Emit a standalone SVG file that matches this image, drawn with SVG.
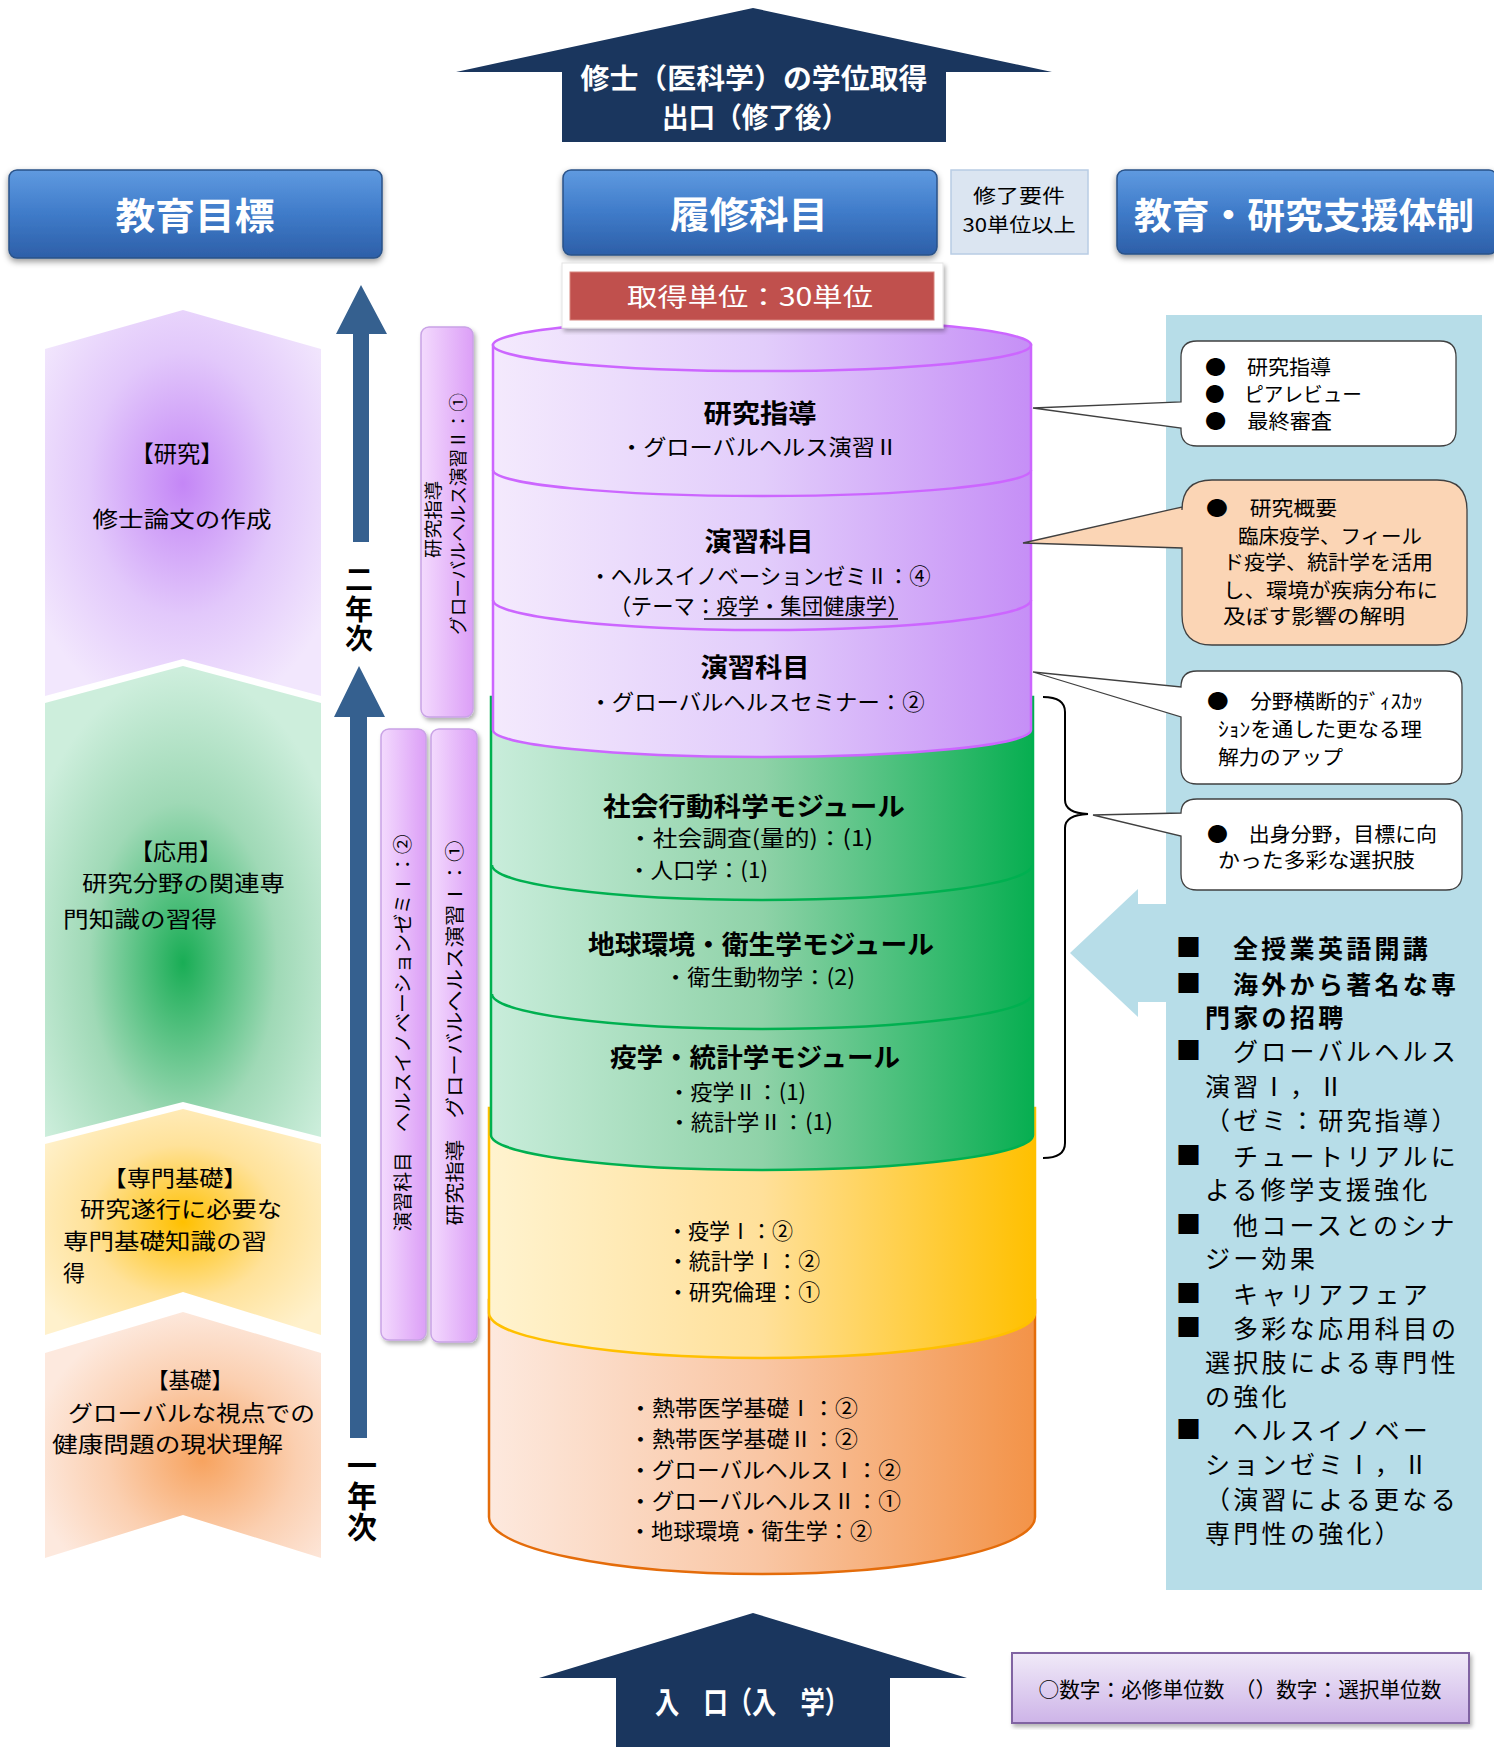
<svg xmlns="http://www.w3.org/2000/svg" width="1494" height="1747" viewBox="0 0 1494 1747">
<style>
.t{font-family:'Noto Sans CJK JP','Noto Sans',sans-serif;fill:#000}
.b{font-weight:bold}
.w{fill:#fff}
.ls{font-size:25px;letter-spacing:3.3px}
.cb{font-size:20px}
.div{fill:none;stroke-width:2.5}
.vt{writing-mode:vertical-rl}
</style>
<defs>
<filter id="sh" x="-10%" y="-10%" width="125%" height="140%"><feDropShadow dx="0" dy="3" stdDeviation="3" flood-color="#000" flood-opacity="0.4"/></filter>
<filter id="sh2" x="-20%" y="-10%" width="150%" height="120%"><feDropShadow dx="2" dy="3" stdDeviation="2" flood-color="#000" flood-opacity="0.3"/></filter>
<linearGradient id="hdr" x1="0" y1="0" x2="0" y2="1"><stop offset="0" stop-color="#5f9ae0"/><stop offset="0.5" stop-color="#3f7bc9"/><stop offset="1" stop-color="#2d5fa8"/></linearGradient>
<linearGradient id="cPu" gradientUnits="userSpaceOnUse" x1="489" y1="0" x2="1035" y2="0"><stop offset="0" stop-color="#f4eafd"/><stop offset="0.5" stop-color="#e2cdfb"/><stop offset="1" stop-color="#c58ef6"/></linearGradient>
<linearGradient id="cGr" gradientUnits="userSpaceOnUse" x1="489" y1="0" x2="1035" y2="0"><stop offset="0" stop-color="#c9eddb"/><stop offset="0.5" stop-color="#8fd2a8"/><stop offset="1" stop-color="#06ae50"/></linearGradient>
<linearGradient id="cYe" gradientUnits="userSpaceOnUse" x1="489" y1="0" x2="1035" y2="0"><stop offset="0" stop-color="#fff3cf"/><stop offset="0.5" stop-color="#ffe09a"/><stop offset="1" stop-color="#ffc000"/></linearGradient>
<linearGradient id="cOr" gradientUnits="userSpaceOnUse" x1="489" y1="0" x2="1035" y2="0"><stop offset="0" stop-color="#fde9de"/><stop offset="0.5" stop-color="#f9c6a4"/><stop offset="1" stop-color="#f39348"/></linearGradient>
<linearGradient id="bar" x1="0" y1="0" x2="1" y2="0"><stop offset="0" stop-color="#f3dafd"/><stop offset="1" stop-color="#dc9ff7"/></linearGradient>
<linearGradient id="leg" x1="0" y1="0" x2="0" y2="1"><stop offset="0" stop-color="#f0eaf8"/><stop offset="1" stop-color="#cdb4e8"/></linearGradient>
<radialGradient id="gPu" cx="0.5" cy="0.45" r="0.62"><stop offset="0" stop-color="#c486f6"/><stop offset="0.55" stop-color="#e2c8fb"/><stop offset="1" stop-color="#f2e7fd"/></radialGradient>
<radialGradient id="gGr" cx="0.5" cy="0.63" r="0.62"><stop offset="0" stop-color="#19ad55"/><stop offset="0.55" stop-color="#9fd9b6"/><stop offset="1" stop-color="#cdeedc"/></radialGradient>
<radialGradient id="gYe" cx="0.5" cy="0.5" r="0.62"><stop offset="0" stop-color="#ffc000"/><stop offset="0.55" stop-color="#ffe29a"/><stop offset="1" stop-color="#fff1cc"/></radialGradient>
<radialGradient id="gPe" cx="0.57" cy="0.6" r="0.62"><stop offset="0" stop-color="#f7a35f"/><stop offset="0.55" stop-color="#fbcfb0"/><stop offset="1" stop-color="#fde9de"/></radialGradient>
</defs>
<rect width="1494" height="1747" fill="#fff"/>

<!-- exit arrow -->
<g id="exit-arrow">
<polygon points="753,8 1052,72 946,72 946,142 562,142 562,72 456,72" fill="#1a365e"/>
<text class="t b w" x="754" y="89" font-size="28" text-anchor="middle" textLength="347" lengthAdjust="spacingAndGlyphs">修士（医科学）の学位取得</text>
<text class="t b w" x="755" y="128" font-size="28" text-anchor="middle" textLength="186" lengthAdjust="spacingAndGlyphs">出口（修了後）</text>
</g>

<!-- headers -->
<g id="hdr-goal"><rect x="9" y="170" width="373" height="88" rx="8" fill="url(#hdr)" stroke="#2a5288" stroke-width="1.5" filter="url(#sh)"/>
<text class="t b w" x="195" y="230" font-size="37" text-anchor="middle" textLength="159" lengthAdjust="spacingAndGlyphs">教育目標</text></g>
<g id="hdr-course"><rect x="563" y="170" width="374" height="85" rx="8" fill="url(#hdr)" stroke="#2a5288" stroke-width="1.5" filter="url(#sh)"/>
<text class="t b w" x="749" y="229" font-size="37" text-anchor="middle" textLength="158" lengthAdjust="spacingAndGlyphs">履修科目</text></g>
<g id="hdr-req"><rect x="951" y="170" width="137" height="84" fill="#dbe5f1" stroke="#b8cce4" stroke-width="1.5"/>
<text class="t" x="1019" y="203" font-size="19" text-anchor="middle" textLength="92" lengthAdjust="spacingAndGlyphs">修了要件</text>
<text class="t" x="1019" y="232" font-size="19" text-anchor="middle" textLength="113" lengthAdjust="spacingAndGlyphs">30単位以上</text></g>
<g id="hdr-support"><rect x="1117" y="170" width="380" height="84" rx="8" fill="url(#hdr)" stroke="#2a5288" stroke-width="1.5" filter="url(#sh)"/>
<text class="t b w" x="1304" y="229" font-size="36" text-anchor="middle" textLength="340" lengthAdjust="spacingAndGlyphs">教育・研究支援体制</text></g>

<!-- left chevrons -->
<g id="goal-research">
<path d="M45,349 L183,310 L321,349 L321,696 L183,659 L45,696 Z" fill="url(#gPu)"/>
<text class="t" x="177" y="462" font-size="23" text-anchor="middle" textLength="93" lengthAdjust="spacingAndGlyphs">【研究】</text>
<text class="t" x="182" y="527" font-size="22" text-anchor="middle" textLength="179" lengthAdjust="spacingAndGlyphs">修士論文の作成</text>
</g>
<g id="goal-applied">
<path d="M45,703 L183,666 L321,703 L321,1137 L183,1102 L45,1137 Z" fill="url(#gGr)"/>
<text class="t" x="176" y="860" font-size="23" text-anchor="middle" textLength="92" lengthAdjust="spacingAndGlyphs">【応用】</text>
<text class="t" x="82" y="891" font-size="22" textLength="203" lengthAdjust="spacingAndGlyphs">研究分野の関連専</text>
<text class="t" x="63" y="927" font-size="22" textLength="154" lengthAdjust="spacingAndGlyphs">門知識の習得</text>
</g>
<g id="goal-specialized">
<path d="M45,1144 L183,1109 L321,1144 L321,1335 L183,1292 L45,1335 Z" fill="url(#gYe)"/>
<text class="t" x="175" y="1186" font-size="22" text-anchor="middle" textLength="145" lengthAdjust="spacingAndGlyphs">【専門基礎】</text>
<text class="t" x="80" y="1217" font-size="22" textLength="202" lengthAdjust="spacingAndGlyphs">研究遂行に必要な</text>
<text class="t" x="63" y="1249" font-size="22" textLength="204" lengthAdjust="spacingAndGlyphs">専門基礎知識の習</text>
<text class="t" x="63" y="1281" font-size="22">得</text>
</g>
<g id="goal-basic">
<path d="M45,1353 L183,1312 L321,1353 L321,1558 L183,1515 L45,1558 Z" fill="url(#gPe)"/>
<text class="t" x="190" y="1388" font-size="22" text-anchor="middle" textLength="86" lengthAdjust="spacingAndGlyphs">【基礎】</text>
<text class="t" x="68" y="1421" font-size="22" textLength="247" lengthAdjust="spacingAndGlyphs">グローバルな視点での</text>
<text class="t" x="52" y="1452" font-size="22" textLength="231" lengthAdjust="spacingAndGlyphs">健康問題の現状理解</text>
</g>

<!-- year labels -->
<g id="year2"><text class="t b vt" x="359" y="610" font-size="28" letter-spacing="1.5" text-anchor="middle">二年次</text></g>
<g id="year1"><text class="t b vt" x="362" y="1496" font-size="30" letter-spacing="1" text-anchor="middle">一年次</text></g>

<!-- vertical bars -->
<g id="bar-research2">
<rect x="421" y="327" width="52" height="390" rx="8" fill="url(#bar)" stroke="#c9a3e6" stroke-width="1.5" filter="url(#sh2)"/>
<text class="t" transform="translate(440,519.5) rotate(-90)" font-size="18" text-anchor="middle" textLength="77" lengthAdjust="spacingAndGlyphs">研究指導</text>
<text class="t" transform="translate(465,514) rotate(-90)" font-size="18" text-anchor="middle" textLength="242" lengthAdjust="spacingAndGlyphs">グローバルヘルス演習Ⅱ：①</text>
</g>
<g id="bar-seminar1">
<rect x="381" y="729" width="45" height="611" rx="8" fill="url(#bar)" stroke="#c9a3e6" stroke-width="1.5" filter="url(#sh2)"/>
<text class="t" transform="translate(410,1033) rotate(-90)" font-size="19" text-anchor="middle" textLength="397" lengthAdjust="spacingAndGlyphs">演習科目　ヘルスイノベーションゼミⅠ：②</text>
</g>
<g id="bar-research1">
<rect x="431" y="729" width="46" height="613" rx="8" fill="url(#bar)" stroke="#c9a3e6" stroke-width="1.5" filter="url(#sh2)"/>
<text class="t" transform="translate(462,1033) rotate(-90)" font-size="19" text-anchor="middle" textLength="385" lengthAdjust="spacingAndGlyphs">研究指導　グローバルヘルス演習Ⅰ：①</text>
</g>

<!-- cylinder -->
<g id="layer-basic">
<path d="M489,1300 V1517 A273,57 0 0 0 1035,1517 V1300 Z" fill="url(#cOr)" stroke="#e46c0a" stroke-width="2.5"/>
<g class="t" font-size="22">
<text x="629" y="1416" textLength="229" lengthAdjust="spacingAndGlyphs">・熱帯医学基礎Ⅰ：②</text>
<text x="629" y="1447" textLength="229" lengthAdjust="spacingAndGlyphs">・熱帯医学基礎Ⅱ：②</text>
<text x="629" y="1478" textLength="272" lengthAdjust="spacingAndGlyphs">・グローバルヘルスⅠ：②</text>
<text x="629" y="1509" textLength="272" lengthAdjust="spacingAndGlyphs">・グローバルヘルスⅡ：①</text>
<text x="629" y="1539" textLength="243" lengthAdjust="spacingAndGlyphs">・地球環境・衛生学：②</text>
</g>
</g>
<g id="layer-specialized">
<path d="M489,1108 V1313 A273,45 0 0 0 1035,1313 V1108 Z" fill="url(#cYe)" stroke="#ffc000" stroke-width="2.5"/>
<g class="t" font-size="22">
<text x="667" y="1239" textLength="126" lengthAdjust="spacingAndGlyphs">・疫学Ⅰ：②</text>
<text x="667" y="1269" textLength="153" lengthAdjust="spacingAndGlyphs">・統計学Ⅰ：②</text>
<text x="667" y="1300" textLength="153" lengthAdjust="spacingAndGlyphs">・研究倫理：①</text>
</g>
</g>
<g id="layer-modules">
<path d="M491,697 V1135 A271,35 0 0 0 1033,1135 V697 Z" fill="url(#cGr)" stroke="#00b050" stroke-width="2.5"/>
<path class="div" d="M492,865 A270,35 0 0 0 1032,865" stroke="#00b050"/>
<path class="div" d="M492,994 A270,35 0 0 0 1032,994" stroke="#00b050"/>
<text class="t b" x="754" y="816" font-size="26" text-anchor="middle" textLength="302" lengthAdjust="spacingAndGlyphs">社会行動科学モジュール</text>
<text class="t" x="628" y="846" font-size="22" textLength="245" lengthAdjust="spacingAndGlyphs">・社会調査(量的)：(1)</text>
<text class="t" x="628" y="878" font-size="22" textLength="140" lengthAdjust="spacingAndGlyphs">・人口学：(1)</text>
<text class="t b" x="761" y="954" font-size="26" text-anchor="middle" textLength="346" lengthAdjust="spacingAndGlyphs">地球環境・衛生学モジュール</text>
<text class="t" x="664" y="985" font-size="22" textLength="191" lengthAdjust="spacingAndGlyphs">・衛生動物学：(2)</text>
<text class="t b" x="755" y="1067" font-size="26" text-anchor="middle" textLength="290" lengthAdjust="spacingAndGlyphs">疫学・統計学モジュール</text>
<text class="t" x="668" y="1100" font-size="22" textLength="138" lengthAdjust="spacingAndGlyphs">・疫学Ⅱ：(1)</text>
<text class="t" x="668" y="1130" font-size="22" textLength="165" lengthAdjust="spacingAndGlyphs">・統計学Ⅱ：(1)</text>
</g>
<g id="layer-research">
<path d="M493,345 V730 A269,27 0 0 0 1031,730 V345 Z" fill="url(#cPu)" stroke="#cc66ff" stroke-width="2.5"/>
<path class="div" d="M493,470 A269,26 0 0 0 1031,470" stroke="#cc66ff"/>
<path class="div" d="M493,600 A269,30 0 0 0 1031,600" stroke="#cc66ff"/>
<ellipse cx="762" cy="345" rx="269" ry="26" fill="url(#cPu)" stroke="#cc66ff" stroke-width="2.5"/>
<text class="t b" x="760" y="423" font-size="26" text-anchor="middle" textLength="113" lengthAdjust="spacingAndGlyphs">研究指導</text>
<text class="t" x="759" y="455" font-size="22" text-anchor="middle" textLength="278" lengthAdjust="spacingAndGlyphs">・グローバルヘルス演習Ⅱ</text>
<text class="t b" x="759" y="551" font-size="26" text-anchor="middle" textLength="109" lengthAdjust="spacingAndGlyphs">演習科目</text>
<text class="t" x="760" y="584" font-size="22" text-anchor="middle" textLength="341" lengthAdjust="spacingAndGlyphs">・ヘルスイノベーションゼミⅡ：④</text>
<text class="t" x="759" y="614" font-size="22" text-anchor="middle" textLength="299" lengthAdjust="spacingAndGlyphs">（テーマ：疫学・集団健康学）</text>
<line x1="704" y1="619" x2="898" y2="619" stroke="#000" stroke-width="1.3"/>
<text class="t b" x="755" y="677" font-size="26" text-anchor="middle" textLength="109" lengthAdjust="spacingAndGlyphs">演習科目</text>
<text class="t" x="757" y="710" font-size="22" text-anchor="middle" textLength="335" lengthAdjust="spacingAndGlyphs">・グローバルヘルスセミナー：②</text>
</g>

<!-- credits box -->
<g id="credits">
<rect x="562" y="263" width="381" height="65" fill="#fff" stroke="#e4e4e4" stroke-width="1" filter="url(#sh2)"/>
<rect x="570" y="272" width="364" height="48" fill="#c0504d" stroke="#d8857f" stroke-width="1"/>
<text class="t w" x="750" y="306" font-size="25" text-anchor="middle" textLength="246" lengthAdjust="spacingAndGlyphs">取得単位：30単位</text>
</g>

<!-- right panel -->
<g id="support-panel">
<rect x="1166" y="315" width="316" height="1275" fill="#b7dde8"/>
<g class="t ls">
<text x="1176" y="957" class="b">■</text><text x="1233" y="958" class="b">全授業英語開講</text>
<text x="1176" y="993" class="b">■</text><text x="1233" y="994" class="b">海外から著名な専</text>
<text x="1205" y="1027" class="b">門家の招聘</text>
<text x="1176" y="1060">■</text><text x="1233" y="1061">グローバルヘルス</text>
<text x="1205" y="1096">演習Ⅰ，Ⅱ</text>
<text x="1205" y="1130">（ゼミ：研究指導）</text>
<text x="1176" y="1165">■</text><text x="1233" y="1166">チュートリアルに</text>
<text x="1205" y="1199">よる修学支援強化</text>
<text x="1176" y="1234">■</text><text x="1233" y="1235">他コースとのシナ</text>
<text x="1205" y="1268">ジー効果</text>
<text x="1176" y="1303">■</text><text x="1233" y="1304">キャリアフェア</text>
<text x="1176" y="1337">■</text><text x="1233" y="1338">多彩な応用科目の</text>
<text x="1205" y="1372">選択肢による専門性</text>
<text x="1205" y="1406">の強化</text>
<text x="1176" y="1439">■</text><text x="1233" y="1440">ヘルスイノベー</text>
<text x="1205" y="1474">ションゼミⅠ，Ⅱ</text>
<text x="1205" y="1509">（演習による更なる</text>
<text x="1205" y="1543">専門性の強化）</text>
</g>
</g>

<!-- callouts -->
<g id="callout-guidance">
<path d="M1197,341 H1440 Q1456,341 1456,357 V430 Q1456,446 1440,446 H1197 Q1181,446 1181,430 V428 L1033,408 L1181,402 V357 Q1181,341 1197,341 Z" fill="#fff" stroke="#404040" stroke-width="1.3"/>
<g class="t cb">
<text x="1205" y="375" textLength="126" lengthAdjust="spacingAndGlyphs">●　研究指導</text>
<text x="1205" y="402" textLength="157" lengthAdjust="spacingAndGlyphs">●　ピアレビュー</text>
<text x="1205" y="429" textLength="127" lengthAdjust="spacingAndGlyphs">●　最終審査</text>
</g>
</g>
<g id="callout-overview">
<path d="M1212,480 H1437 Q1467,480 1467,510 V615 Q1467,645 1437,645 H1212 Q1182,645 1182,615 V548 L1023,543 L1182,507 V510 Q1182,480 1212,480 Z" fill="#fbd5b5" stroke="#404040" stroke-width="1.3"/>
<g class="t cb">
<text x="1206" y="516" textLength="131" lengthAdjust="spacingAndGlyphs">●　研究概要</text>
<text x="1238" y="544" textLength="184" lengthAdjust="spacingAndGlyphs">臨床疫学、フィール</text>
<text x="1223" y="570" textLength="210" lengthAdjust="spacingAndGlyphs">ド疫学、統計学を活用</text>
<text x="1223" y="598" textLength="215" lengthAdjust="spacingAndGlyphs">し、環境が疾病分布に</text>
<text x="1223" y="624" textLength="182" lengthAdjust="spacingAndGlyphs">及ぼす影響の解明</text>
</g>
</g>
<g id="callout-discussion">
<path d="M1197,671 H1446 Q1462,671 1462,687 V768 Q1462,784 1446,784 H1197 Q1181,784 1181,768 V717 L1033,672 L1181,687 Q1181,671 1197,671 Z" fill="#fff" stroke="#404040" stroke-width="1.3"/>
<g class="t cb">
<text x="1207" y="709" textLength="216" lengthAdjust="spacingAndGlyphs">●　分野横断的ﾃﾞｨｽｶｯ</text>
<text x="1218" y="737" textLength="204" lengthAdjust="spacingAndGlyphs">ｼｮﾝを通した更なる理</text>
<text x="1218" y="765" textLength="125" lengthAdjust="spacingAndGlyphs">解力のアップ</text>
</g>
</g>
<g id="callout-options">
<path d="M1197,799 H1446 Q1462,799 1462,815 V874 Q1462,890 1446,890 H1197 Q1181,890 1181,874 V836 L1093,815 L1181,813 Q1181,799 1197,799 Z" fill="#fff" stroke="#404040" stroke-width="1.3"/>
<g class="t cb">
<text x="1207" y="842" textLength="230" lengthAdjust="spacingAndGlyphs">●　出身分野，目標に向</text>
<text x="1218" y="868" textLength="197" lengthAdjust="spacingAndGlyphs">かった多彩な選択肢</text>
</g>
</g>

<!-- connectors -->
<g id="connectors">
<path d="M361,285 L387,334 L369,334 L369,542 L353,542 L353,334 L336,334 Z" fill="#35608f"/>
<path d="M359,666 L385,717 L367,717 L367,1438 L350,1438 L350,717 L334,717 Z" fill="#35608f"/>
<path d="M1043,697 Q1065,697 1065,712 V800 Q1065,813 1088,814 Q1065,815 1065,828 V1143 Q1065,1158 1043,1158" fill="none" stroke="#000" stroke-width="2"/>
<polygon points="1070,953 1138,889 1138,904 1170,904 1170,1002 1138,1002 1138,1017" fill="#b7dde8"/>
</g>

<!-- entry arrow -->
<g id="entry-arrow">
<polygon points="753,1613 967,1678 890,1678 890,1747 616,1747 616,1678 539,1678" fill="#1a365e"/>
<text class="t b w" x="752" y="1713" font-size="30" text-anchor="middle" textLength="194" lengthAdjust="spacingAndGlyphs">入　口（入　学）</text>
</g>

<!-- legend -->
<g id="legend">
<rect x="1012" y="1653" width="457" height="70" fill="url(#leg)" stroke="#8064a2" stroke-width="2" filter="url(#sh2)"/>
<text class="t" x="1240" y="1697" font-size="21" text-anchor="middle" textLength="403" lengthAdjust="spacingAndGlyphs">○数字：必修単位数　（）数字：選択単位数</text>
</g>
</svg>
